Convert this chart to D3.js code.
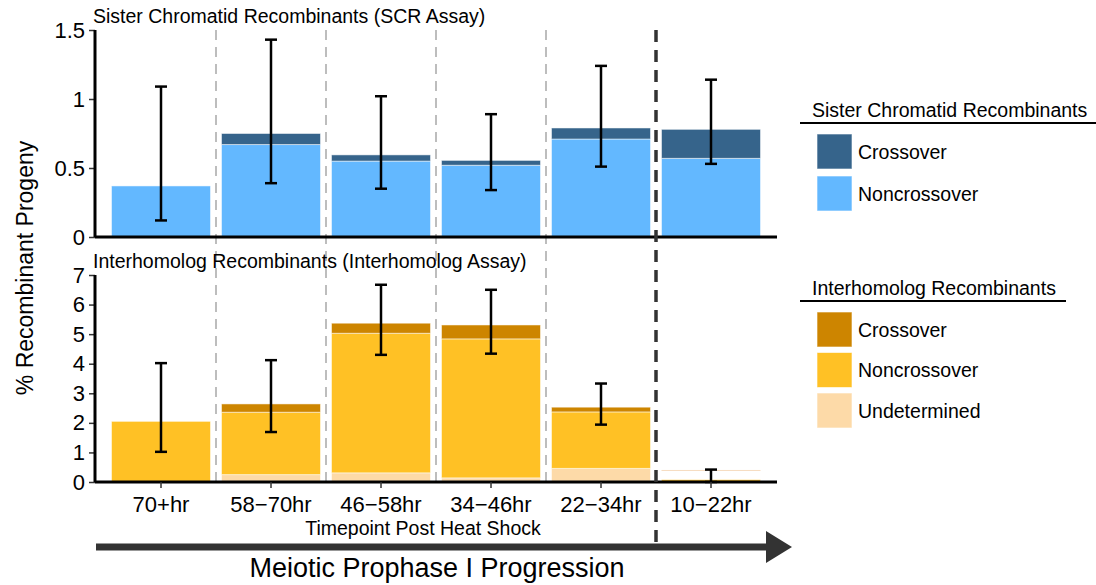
<!DOCTYPE html>
<html>
<head>
<meta charset="utf-8">
<script src="https://cdn.jsdelivr.net/npm/d3@7"></script>
<style>
  body { margin: 0; background: #fff; }
  text { font-family: "Liberation Sans", Arial, sans-serif; fill: #000; }
</style>
</head>
<body>
<div id="chart"></div>
<script>
// data
const timepoints = ["70+hr", "58\u221270hr", "46\u221258hr", "34\u221246hr", "22\u221234hr", "10\u221222hr"];

// sister chromatid (SCR assay)
const scrNoncrossover = [0.37, 0.67, 0.55, 0.52, 0.71, 0.57];
const scrCrossover = [0, 0.08, 0.045, 0.035, 0.08, 0.21];
const scrErrLow = [0.12, 0.39, 0.35, 0.34, 0.51, 0.53];
const scrErrHigh = [1.09, 1.43, 1.02, 0.89, 1.24, 1.14];
const scrTicks = [0, 0.5, 1, 1.5];

// interhomolog assay
const ihUndetermined = [0, 0.25, 0.31, 0.14, 0.46, 0];
const ihNoncrossover = [2.05, 2.11, 4.72, 4.70, 1.91, 0.08];
const ihCrossover = [0, 0.28, 0.34, 0.47, 0.16, 0];
const ihOutline = [null, null, null, null, null, 0.39];
const ihErrLow = [1.02, 1.69, 4.30, 4.34, 1.94, 0];
const ihErrHigh = [4.02, 4.12, 6.67, 6.50, 3.33, 0.42];
const ihTicks = [0, 1, 2, 3, 4, 5, 6, 7];

const colors = {
  scrCO: "#36648B", scrNCO: "#63B8FF",
  ihCO: "#CD8500", ihNCO: "#FFC125", ihUND: "#FDDAA8"
};

const width = 1096, height = 585;
const axisLeft = 95, axisRight = 777;

const svg = d3.select("#chart").append("svg")
  .attr("width", width).attr("height", height);

const x = d3.scaleBand()
  .domain(timepoints)
  .range([106, 766])
  .paddingInner(0.1)
  .paddingOuter(0.05);

const yTop = d3.scaleLinear().domain([0, 1.5]).range([237, 30]);
const yBot = d3.scaleLinear().domain([0, 7]).range([482, 275]);

// separators between timepoints
const sepX = timepoints.slice(1).map(t => x(t) - x.step() * x.paddingInner() / 2);
svg.append("g").selectAll("line")
  .data(sepX.slice(0, 4))
  .join("line")
  .attr("x1", d => d).attr("x2", d => d)
  .attr("y1", 30).attr("y2", 482)
  .attr("stroke", "#bdbdbd").attr("stroke-width", 2)
  .attr("stroke-dasharray", "10,7");

// stacked bars
function drawBars(keys, rows, y, fills) {
  const table = timepoints.map((t, i) => {
    const o = { t };
    keys.forEach((k, j) => o[k] = rows[j][i]);
    return o;
  });
  const series = d3.stack().keys(keys)(table);
  svg.append("g").selectAll("g")
    .data(series)
    .join("g")
    .attr("fill", (d, i) => fills[i])
    .selectAll("rect")
    .data(d => d.filter(v => v[1] - v[0] > 0))
    .join("rect")
    .attr("x", d => x(d.data.t))
    .attr("width", x.bandwidth())
    .attr("y", d => y(d[1]))
    .attr("height", d => y(d[0]) - y(d[1]))
    .attr("stroke", "#fff").attr("stroke-opacity", 0.5).attr("stroke-width", 1);
}

drawBars(["nco", "co"], [scrNoncrossover, scrCrossover], yTop, [colors.scrNCO, colors.scrCO]);
drawBars(["und", "nco", "co"], [ihUndetermined, ihNoncrossover, ihCrossover], yBot,
  [colors.ihUND, colors.ihNCO, colors.ihCO]);

// faint outline on the last interhomolog bar
svg.append("g").selectAll("line")
  .data(timepoints.filter((t, i) => ihOutline[i] !== null))
  .join("line")
  .attr("x1", d => x(d)).attr("x2", d => x(d) + x.bandwidth())
  .attr("y1", d => yBot(ihOutline[timepoints.indexOf(d)]))
  .attr("y2", d => yBot(ihOutline[timepoints.indexOf(d)]))
  .attr("stroke", "#f6dcc0").attr("stroke-width", 1);

// error bars
function drawErr(lo, hi, y) {
  const g = svg.append("g").attr("stroke", "#000").attr("stroke-width", 2.5);
  timepoints.forEach((t, i) => {
    const cx = x(t) + x.bandwidth() / 2;
    g.append("line").attr("x1", cx).attr("x2", cx).attr("y1", y(lo[i])).attr("y2", y(hi[i]));
    g.append("line").attr("x1", cx - 6).attr("x2", cx + 6).attr("y1", y(lo[i])).attr("y2", y(lo[i]));
    g.append("line").attr("x1", cx - 6).attr("x2", cx + 6).attr("y1", y(hi[i])).attr("y2", y(hi[i]));
  });
}
drawErr(scrErrLow, scrErrHigh, yTop);
drawErr(ihErrLow, ihErrHigh, yBot);

// axes
function yAxis(y, ticks) {
  const g = svg.append("g")
    .attr("transform", `translate(${axisLeft},0)`)
    .call(d3.axisLeft(y).tickValues(ticks).tickFormat(d => String(d)).tickSize(6).tickPadding(4));
  g.select(".domain").remove();
  g.selectAll(".tick line").attr("stroke", "#333").attr("stroke-width", 1.5);
  g.selectAll(".tick text").attr("font-size", 22).attr("fill", "#000")
    .style("font-family", "'Liberation Sans', Arial, sans-serif");
  g.append("line").attr("x1", 0).attr("x2", 0)
    .attr("y1", y.range()[1]).attr("y2", y.range()[0])
    .attr("stroke", "#000").attr("stroke-width", 3);
  svg.append("line")
    .attr("x1", axisLeft).attr("x2", axisRight)
    .attr("y1", y(0)).attr("y2", y(0))
    .attr("stroke", "#000").attr("stroke-width", 3);
}
yAxis(yTop, scrTicks);
yAxis(yBot, ihTicks);

const xAxisG = svg.append("g")
  .attr("transform", `translate(0,${yBot(0)})`)
  .call(d3.axisBottom(x).tickSize(6).tickPadding(8));
xAxisG.select(".domain").remove();
xAxisG.selectAll(".tick line").attr("stroke", "#333").attr("stroke-width", 1.5);
xAxisG.selectAll(".tick text").attr("font-size", 22).attr("fill", "#000")
  .style("font-family", "'Liberation Sans', Arial, sans-serif");

// panel titles
svg.append("text").attr("x", 93).attr("y", 23).attr("font-size", 19.5)
  .text("Sister Chromatid Recombinants (SCR Assay)");
svg.append("text").attr("x", 93).attr("y", 268).attr("font-size", 19.5)
  .text("Interhomolog Recombinants (Interhomolog Assay)");

// y title
svg.append("text")
  .attr("transform", "translate(33,268) rotate(-90)")
  .attr("text-anchor", "middle").attr("font-size", 23)
  .text("% Recombinant Progeny");

// x title
svg.append("text").attr("x", 423).attr("y", 535).attr("text-anchor", "middle")
  .attr("font-size", 19.5).text("Timepoint Post Heat Shock");

// dark separator before last timepoint
svg.append("line")
  .attr("x1", sepX[4]).attr("x2", sepX[4])
  .attr("y1", 30).attr("y2", 547)
  .attr("stroke", "#333").attr("stroke-width", 3.5)
  .attr("stroke-dasharray", "12,8");

// progression arrow
svg.append("line").attr("x1", 96).attr("x2", 770).attr("y1", 547).attr("y2", 547)
  .attr("stroke", "#333").attr("stroke-width", 7);
svg.append("path").attr("d", "M766,531 L792,547 L766,563 Z").attr("fill", "#333");
svg.append("text").attr("x", 437).attr("y", 577).attr("text-anchor", "middle")
  .attr("font-size", 27).text("Meiotic Prophase I Progression");

// legends
function legend(title, titleY, lineEnd, items, keyY, step) {
  const g = svg.append("g");
  g.append("text").attr("x", 812).attr("y", titleY).attr("font-size", 19.5).text(title);
  g.append("line").attr("x1", 800).attr("x2", lineEnd)
    .attr("y1", titleY + 6).attr("y2", titleY + 6)
    .attr("stroke", "#000").attr("stroke-width", 2);
  const it = g.selectAll("g.item").data(items).join("g").attr("class", "item")
    .attr("transform", (d, i) => `translate(817,${keyY + i * step})`);
  it.append("rect").attr("width", 35).attr("height", 35)
    .attr("fill", d => d[1]).attr("stroke", "#fff").attr("stroke-opacity", 0.6);
  it.append("text").attr("x", 41).attr("y", 24.5).attr("font-size", 19.5).text(d => d[0]);
}
legend("Sister Chromatid Recombinants", 117, 1096,
  [["Crossover", colors.scrCO], ["Noncrossover", colors.scrNCO]], 134, 42);
legend("Interhomolog Recombinants", 295, 1066,
  [["Crossover", colors.ihCO], ["Noncrossover", colors.ihNCO], ["Undetermined", colors.ihUND]], 312, 40.5);
</script>
</body>
</html>
